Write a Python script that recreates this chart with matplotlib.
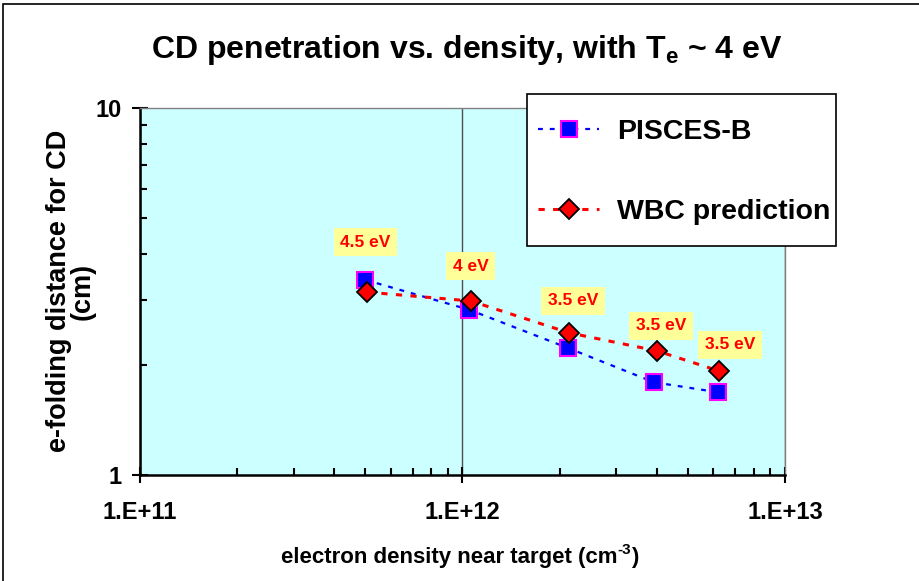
import matplotlib
matplotlib.use("Agg")
import matplotlib.pyplot as plt
from matplotlib.patches import Rectangle
from matplotlib.ticker import LogLocator, NullFormatter, FixedLocator, FixedFormatter

plt.rcParams['font.family'] = ['Liberation Sans', 'DejaVu Sans']
plt.rcParams['font.weight'] = 'bold'
plt.rcParams['lines.scale_dashes'] = False
plt.rcParams['mathtext.fontset'] = 'custom'
plt.rcParams['mathtext.rm'] = 'Liberation Sans:bold'
plt.rcParams['mathtext.bf'] = 'Liberation Sans:bold'
plt.rcParams['mathtext.it'] = 'Liberation Sans:bold'

# Electron density near target (cm^-3)
density_pisces = [5.0e11, 1.05e12, 2.12e12, 3.92e12, 6.2e12]
density_wbc = [5.05e11, 1.06e12, 2.14e12, 4.0e12, 6.25e12]
# e-folding distance for CD (cm)
efold_pisces = [3.40, 2.82, 2.22, 1.79, 1.68]
efold_wbc = [3.15, 2.98, 2.44, 2.18, 1.92]
# Electron temperature annotations
te_labels = ["4.5 eV", "4 eV", "3.5 eV", "3.5 eV", "3.5 eV"]

x_ticks = [1e11, 1e12, 1e13]
x_ticklabels = ["1.E+11", "1.E+12", "1.E+13"]
y_ticks = [1, 10]
y_ticklabels = ["1", "10"]

W, H = 920, 581
fig = plt.figure(figsize=(W / 100, H / 100), dpi=100)
fig.patch.set_facecolor('white')


def fx(px):
    return px / W


def fy(py):
    return 1 - py / H


# outer frame of the chart area
fig.patches.append(Rectangle((fx(3), -0.1), 1.2, fy(4) + 0.1,
                             transform=fig.transFigure, fill=False,
                             edgecolor='black', lw=1.2, zorder=0))

ax = fig.add_axes([fx(140), fy(475), 645 / W, 367 / H])
ax.set_facecolor('#CCFFFF')
ax.set_xscale('log')
ax.set_yscale('log')
ax.set_xlim(1e11, 1e13)
ax.set_ylim(1, 10)

ax.xaxis.set_major_locator(FixedLocator(x_ticks))
ax.xaxis.set_major_formatter(FixedFormatter(x_ticklabels))
ax.xaxis.set_minor_locator(LogLocator(base=10, subs=range(2, 10)))
ax.xaxis.set_minor_formatter(NullFormatter())
ax.yaxis.set_major_locator(FixedLocator(y_ticks))
ax.yaxis.set_major_formatter(FixedFormatter(y_ticklabels))
ax.yaxis.set_minor_locator(LogLocator(base=10, subs=range(2, 10)))
ax.yaxis.set_minor_formatter(NullFormatter())

ax.tick_params(which='major', direction='inout', length=12, width=1.5,
               labelsize=17, color='black')
ax.tick_params(which='minor', direction='in', length=5, width=1.5, color='black')
ax.tick_params(axis='x', which='major', pad=13)
ax.tick_params(axis='y', which='major', pad=7)
for lab in ax.get_xticklabels() + ax.get_yticklabels():
    lab.set_fontweight('bold')

ax.grid(axis='x', which='major', color='#505050', lw=1.0)
ax.set_axisbelow(True)

for side in ('left', 'bottom'):
    ax.spines[side].set_color('black')
    ax.spines[side].set_linewidth(1.8)
for side in ('top', 'right'):
    ax.spines[side].set_color('#808080')
    ax.spines[side].set_linewidth(1.0)

l1, = ax.plot(density_pisces, efold_pisces, color='#0000FF', lw=1.6,
              dashes=(3.5, 5), marker='s', markersize=11.5,
              markerfacecolor='#0000FF', markeredgecolor='#FF00FF',
              markeredgewidth=1.5, label='PISCES-B', zorder=3)
l2, = ax.plot(density_wbc, efold_wbc, color='#FF0000', lw=2.2,
              dashes=(4.5, 6), marker='D', markersize=10.5,
              markerfacecolor='#FF0000', markeredgecolor='black',
              markeredgewidth=1.3, label='WBC prediction', zorder=4)

# temperature tags above the prediction points (offsets in points)
tag_offsets = [(-1, 36), (0, 25), (3, 23), (3, 18), (8, 19)]
for x, y, lab, off in zip(density_wbc, efold_wbc, te_labels, tag_offsets):
    ax.annotate(lab, (x, y), xytext=off, textcoords='offset points',
                ha='center', va='center', color='#FF0000', fontsize=12.5,
                fontweight='bold', zorder=5,
                bbox=dict(boxstyle='square,pad=0.38', fc='#FFFF99', ec='none'))

# legend box
fig.patches.append(Rectangle((fx(527), fy(246)), 309 / W, 152 / H,
                             transform=fig.transFigure, facecolor='white',
                             edgecolor='black', lw=1.2, zorder=3))
leg = fig.legend(handles=[l1, l2], loc='center left',
                 bbox_to_anchor=(fx(538), fy(172)),
                 bbox_transform=fig.transFigure, frameon=False,
                 prop={'weight': 'bold', 'size': 20.5},
                 handlelength=2.15, handletextpad=0.62, labelspacing=1.9,
                 borderpad=0, borderaxespad=0, numpoints=1)
leg.set_zorder(6)

fig.text(fx(467), fy(50), r"CD penetration vs. density, with T$_\mathbf{e}$ ~ 4 eV",
         ha='center', va='center', fontsize=23, fontweight='bold')

# x-axis title with a small raised "-3"
renderer = fig.canvas.get_renderer()
xl_main = fig.text(0, fy(557), "electron density near target (cm",
                   ha='left', va='center', fontsize=16, fontweight='bold')
xl_sup = fig.text(0, fy(550), "-3", ha='left', va='center', fontsize=11,
                  fontweight='bold')
xl_end = fig.text(0, fy(557), ")", ha='left', va='center', fontsize=16,
                  fontweight='bold')
w_main = xl_main.get_window_extent(renderer).width
w_sup = xl_sup.get_window_extent(renderer).width
w_end = xl_end.get_window_extent(renderer).width
x0 = 460 - (w_main + w_sup + w_end) / 2
xl_main.set_x(fx(x0))
xl_sup.set_x(fx(x0 + w_main))
xl_end.set_x(fx(x0 + w_main + w_sup))

fig.text(fx(71), fy(291), "e-folding distance for CD\n(cm)",
         ha='center', va='center', rotation=90, fontsize=19.5,
         fontweight='bold', multialignment='center', linespacing=0.9)

fig.savefig('out.png', dpi=100, facecolor='white')
